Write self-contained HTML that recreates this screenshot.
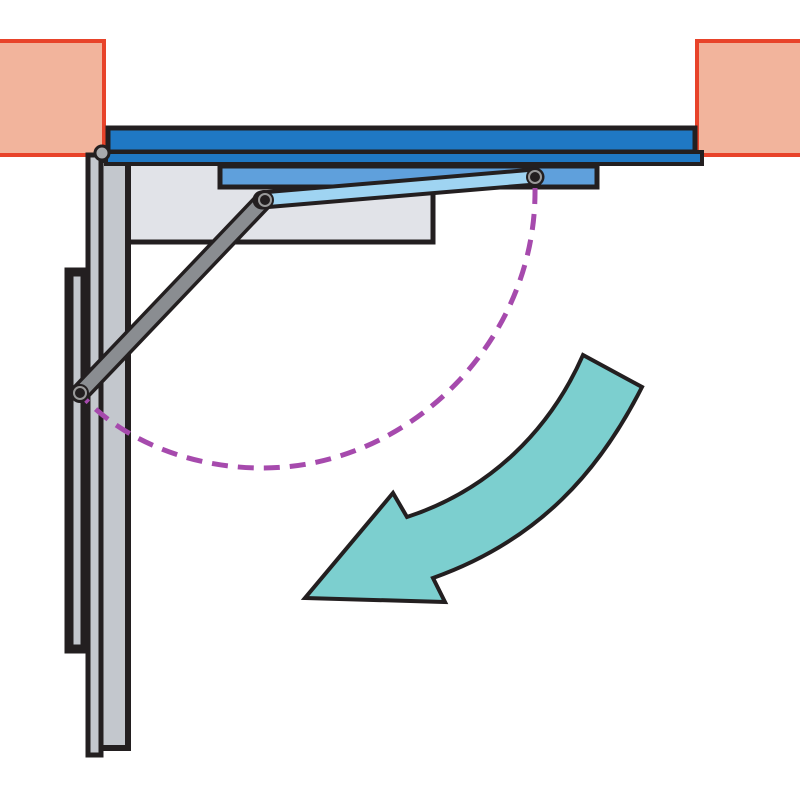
<!DOCTYPE html>
<html><head><style>html,body{margin:0;padding:0;background:#fff}svg{display:block}</style></head>
<body>
<svg width="800" height="800" viewBox="0 0 800 800" xmlns="http://www.w3.org/2000/svg">
<rect x="-5" y="41" width="109" height="114" fill="#f2b49c" stroke="#e8432a" stroke-width="4"/>
<rect x="697" y="41" width="110" height="114" fill="#f2b49c" stroke="#e8432a" stroke-width="4"/>
<rect x="97" y="158" width="336" height="84" fill="#e1e3e8" stroke="#231f20" stroke-width="5"/>
<rect x="69" y="272" width="16" height="377" fill="#c3c7cd" stroke="#231f20" stroke-width="9"/>
<rect x="99" y="160" width="29" height="588" fill="#c3c7cd" stroke="#231f20" stroke-width="6"/>
<rect x="88" y="155" width="13" height="600" fill="#c3c7cd" stroke="#231f20" stroke-width="5"/>
<rect x="108" y="128" width="587" height="24" fill="#1f78c4" stroke="#231f20" stroke-width="5"/>
<rect x="106" y="152" width="596" height="12" fill="#1f78c4" stroke="#231f20" stroke-width="4"/>
<rect x="220" y="166" width="377" height="21" fill="#5fa0dc" stroke="#231f20" stroke-width="5"/>
<circle cx="102" cy="153" r="7" fill="#a8aaad" stroke="#231f20" stroke-width="3"/>
<line x1="80" y1="393" x2="264" y2="200" stroke="#231f20" stroke-width="20" stroke-linecap="round"/>
<line x1="80" y1="393" x2="264" y2="200" stroke="#8a8d91" stroke-width="13"/>
<line x1="262" y1="200" x2="535" y2="177" stroke="#231f20" stroke-width="19" stroke-linecap="round"/>
<line x1="262" y1="200" x2="535" y2="177" stroke="#9fd4f2" stroke-width="11"/>
<path d="M535,188 C537,340 410,468 262,468 C190,468 125,440 86,400" fill="none" stroke="#a64aad" stroke-width="5" stroke-dasharray="16,10"/>
<circle cx="80" cy="393" r="9" fill="#231f20"/><circle cx="80" cy="393" r="6" fill="none" stroke="#999" stroke-width="2"/>
<circle cx="265" cy="200" r="9" fill="#231f20"/><circle cx="265" cy="200" r="6" fill="none" stroke="#999" stroke-width="2"/>
<circle cx="535" cy="177" r="9" fill="#231f20"/><circle cx="535" cy="177" r="6" fill="none" stroke="#999" stroke-width="2"/>
<path d="M583,355 L642,387 C600,470 540,540 433,578 L445,602 L305,598 L393,493 L407,517 C490,490 550,430 583,355 Z" fill="#7ccfcf" stroke="#231f20" stroke-width="4"/>
</svg>
</body></html>
